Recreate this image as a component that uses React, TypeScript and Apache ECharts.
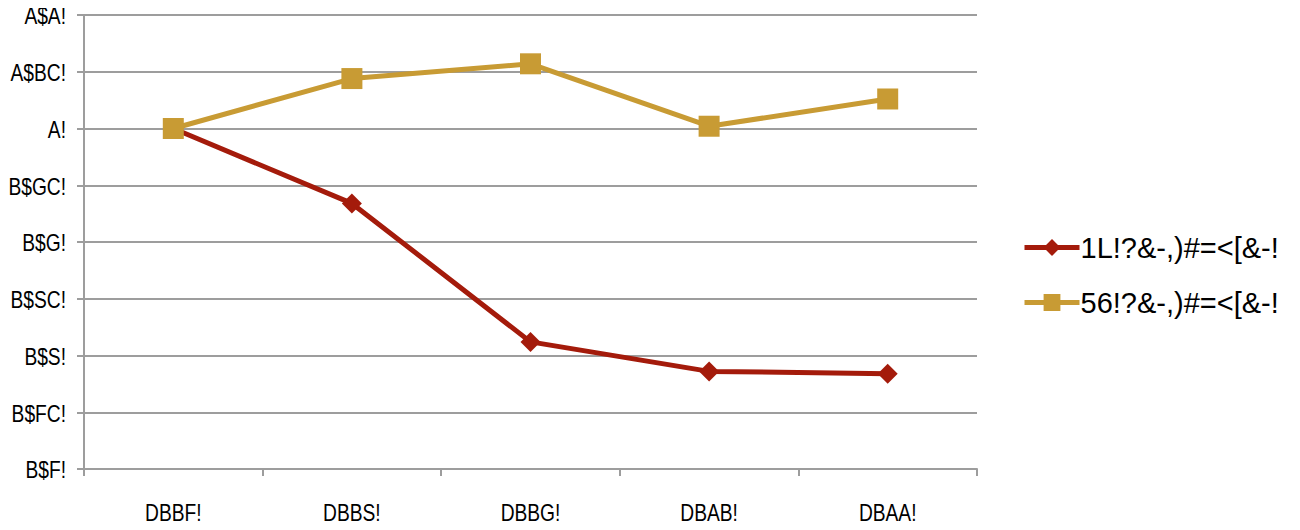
import React, { useEffect, useRef } from "react";
import * as echarts from "echarts";

const categories = ["DBBF!", "DBBS!", "DBBG!", "DBAB!", "DBAA!"];
const seriesNames = ["1L!?&-,)#=<[&-!", "56!?&-,)#=<[&-!"];
const redValues = [100, 93.4, 81.2, 78.6, 78.4];
const goldValues = [100, 104.4, 105.7, 100.2, 102.6];
const yTickValues = [70, 75, 80, 85, 90, 95, 100, 105, 110];
const yTickLabels = ["B$F!", "B$FC!", "B$S!", "B$SC!", "B$G!", "B$GC!", "A!", "A$BC!", "A$A!"];

export default function App() {
  const ref = useRef<HTMLDivElement>(null);
  useEffect(() => {
    if (!ref.current) return;
    const chart = echarts.init(ref.current, null, { renderer: "svg" });
    const labelFont = "24px 'Liberation Sans', Arial, sans-serif";
    chart.setOption({
      animation: false,
      backgroundColor: "#ffffff",
      grid: { left: 84, right: 323, top: 15, bottom: 61, containLabel: false, outerBoundsMode: "none" },
      xAxis: {
        type: "category",
        data: categories,
        boundaryGap: true,
        axisLine: { lineStyle: { color: "#9d9d9d", width: 2 } },
        axisTick: { show: true, length: 7, lineStyle: { color: "#9d9d9d", width: 2 } },
        axisLabel: { show: false },
        splitLine: { show: false },
      },
      yAxis: {
        type: "value",
        min: 70,
        max: 110,
        interval: 5,
        axisLine: { show: true, lineStyle: { color: "#9d9d9d", width: 2 } },
        axisTick: { show: true, length: 7, lineStyle: { color: "#9d9d9d", width: 2 } },
        axisLabel: { show: false },
        splitLine: { show: true, lineStyle: { color: "#9d9d9d", width: 2 } },
      },
      legend: {
        orient: "vertical",
        left: 1017,
        top: 228,
        itemWidth: 55,
        itemHeight: 21,
        itemGap: 26,
        lineStyle: { width: 5 },
        textStyle: { fontSize: 29, color: "#000", fontFamily: "'Liberation Sans', sans-serif", padding: [0, 0, 0, -4] },
        data: seriesNames,
      },
      series: [
        {
          name: seriesNames[0],
          type: "line",
          data: redValues,
          symbol: "diamond",
          symbolSize: 20,
          lineStyle: { color: "#a41b0b", width: 5 },
          itemStyle: { color: "#a41b0b" },
        },
        {
          name: seriesNames[1],
          type: "line",
          data: goldValues,
          symbol: "rect",
          symbolSize: 21,
          lineStyle: { color: "#c89b34", width: 5 },
          itemStyle: { color: "#c89b34" },
        },
      ],
    });

    const xAxisY = chart.convertToPixel({ yAxisIndex: 0 }, 70) as number;
    const yAxisX = chart.convertToPixel({ xAxisIndex: 0 }, 0) as number;
    const bandHalf = ((chart.convertToPixel({ xAxisIndex: 0 }, 1) as number) - yAxisX) / 2;
    const leftEdge = yAxisX - bandHalf;
    const graphics: any[] = [];
    categories.forEach((c, i) => {
      graphics.push({
        type: "text",
        x: chart.convertToPixel({ xAxisIndex: 0 }, i) as number,
        y: xAxisY + 44,
        scaleX: 0.8,
        style: { text: c, font: labelFont, fill: "#000", align: "center", verticalAlign: "middle" },
      });
    });
    yTickValues.forEach((v, i) => {
      graphics.push({
        type: "text",
        x: leftEdge - 18,
        y: (chart.convertToPixel({ yAxisIndex: 0 }, v) as number) + 1,
        scaleX: 0.8,
        style: { text: yTickLabels[i], font: labelFont, fill: "#000", align: "right", verticalAlign: "middle" },
      });
    });
    chart.setOption({ graphic: graphics });
    return () => chart.dispose();
  }, []);
  return <div ref={ref} style={{ width: 1300, height: 530, margin: -8 }} />;
}
